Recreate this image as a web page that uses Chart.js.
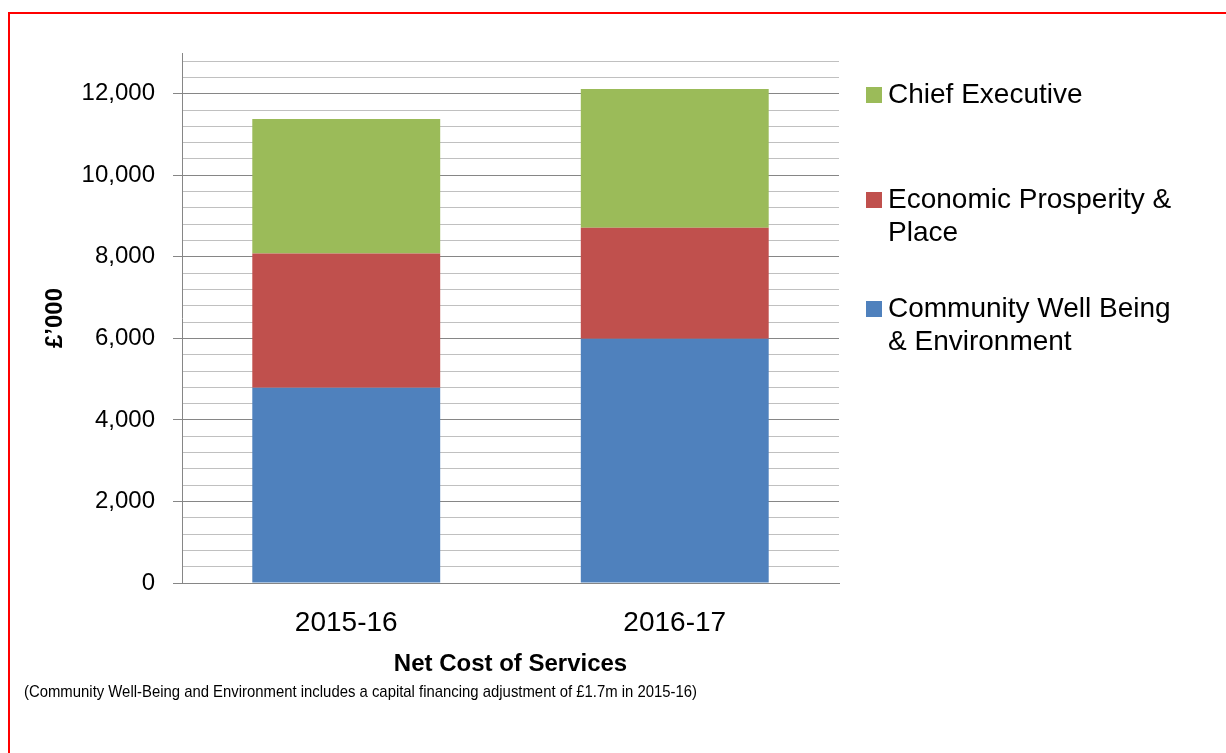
<!DOCTYPE html>
<html>
<head>
<meta charset="utf-8">
<script src="https://cdn.jsdelivr.net/npm/chart.js@4.4.0/dist/chart.umd.min.js"></script>
<style>
  html, body { margin: 0; padding: 0; background: #fff; overflow: hidden; }
  #wrap { position: relative; width: 1226px; height: 753px; }
  #frame { position: absolute; left: 8px; top: 12px; width: 1300px; height: 800px;
           border-left: 2px solid #ff0000; border-top: 2px solid #ff0000; pointer-events: none; }
</style>
</head>
<body>
<div id="wrap">
  <canvas id="costChart" width="1226" height="753"></canvas>
  <div id="frame"></div>
</div>
<script>
const years = ['2015-16', '2016-17'];
const communityWellBeing = [4790, 5990];
const economicProsperity = [3290, 2725];
const chiefExecutive = [3300, 3400];
const seriesNames = ['Community Well Being & Environment', 'Economic Prosperity & Place', 'Chief Executive'];
const legendLines = [['Community Well Being', '& Environment'], ['Economic Prosperity &', 'Place'], ['Chief Executive']];
const yTickLabels = ['0', '2,000', '4,000', '6,000', '8,000', '10,000', '12,000'];
const yMax = 13000;
const majorStep = 2000;
const minorStep = 400;
const footNote = '(Community Well-Being and Environment includes a capital financing adjustment of £1.7m in 2015-16)';

const colors = ['#4F81BD', '#C0504D', '#9BBB59'];
const fontFamily = '"Liberation Sans", Arial, sans-serif';

// legend on the right, top item first, labels wrap over two lines
const sideLegend = {
    id: 'sideLegend',
    afterDraw(chart) {
        const ctx = chart.ctx;
        const boxX = chart.chartArea.right + 27;
        const textX = boxX + 22;
        const firstLineY = [309, 200, 95];
        const lineH = 33;
        ctx.save();
        ctx.font = '28px ' + fontFamily;
        ctx.textBaseline = 'middle';
        chart.data.datasets.forEach((ds, i) => {
            const y = firstLineY[i];
            ctx.fillStyle = ds.backgroundColor;
            ctx.fillRect(boxX, y - 8, 16, 16);
            ctx.fillStyle = '#000';
            legendLines[i].forEach((line, j) => ctx.fillText(line, textX, y + j * lineH));
        });
        ctx.restore();
    }
};

// footnote under the axis title, slightly condensed like the original
const footNotePlugin = {
    id: 'footNote',
    afterDraw(chart) {
        const ctx = chart.ctx;
        ctx.save();
        ctx.font = '17px ' + fontFamily;
        ctx.fillStyle = '#000';
        ctx.textBaseline = 'middle';
        const w = ctx.measureText(footNote).width;
        ctx.translate(24, 692);
        ctx.scale(673 / w, 1);
        ctx.fillText(footNote, 0, 0);
        ctx.restore();
    }
};

const ctx = document.getElementById('costChart').getContext('2d');
const chart = new Chart(ctx, {
    type: 'bar',
    data: {
        labels: years,
        datasets: [
            { label: seriesNames[0], data: communityWellBeing, backgroundColor: colors[0] },
            { label: seriesNames[1], data: economicProsperity, backgroundColor: colors[1] },
            { label: seriesNames[2], data: chiefExecutive, backgroundColor: colors[2] }
        ]
    },
    options: {
        responsive: false,
        animation: false,
        layout: { padding: { top: 53, right: 387, left: 30, bottom: 71 } },
        datasets: { bar: { categoryPercentage: 1, barPercentage: 0.572 } },
        plugins: {
            legend: { display: false },
            tooltip: { enabled: false }
        },
        scales: {
            x: {
                stacked: true,
                grid: { display: false },
                border: { display: true, color: '#868686', width: 1 },
                ticks: { color: '#000', font: { family: fontFamily, size: 28 }, padding: 15 },
                title: {
                    display: true,
                    text: 'Net Cost of Services',
                    color: '#000',
                    font: { family: fontFamily, size: 24, weight: 'bold' },
                    padding: { top: 14, bottom: 3 }
                },
                afterFit(scale) { scale.height = 99; }
            },
            y: {
                stacked: true,
                min: 0,
                max: yMax,
                grid: {
                    color: c => c.tick && c.tick.value % majorStep === 0 ? '#868686' : '#c0c0c0',
                    tickColor: c => c.tick && c.tick.value % majorStep === 0 ? '#868686' : 'rgba(0,0,0,0)',
                    tickLength: 9,
                    lineWidth: 1
                },
                border: { display: true, color: '#868686', width: 1 },
                ticks: {
                    stepSize: minorStep,
                    includeBounds: false,
                    autoSkip: false,
                    padding: 18,
                    color: '#000',
                    font: { family: fontFamily, size: 24 },
                    callback: v => v % majorStep === 0 ? yTickLabels[v / majorStep] : ''
                },
                title: {
                    display: true,
                    text: '£’000',
                    color: '#000',
                    font: { family: fontFamily, size: 24, weight: 'bold' },
                    padding: { top: 11, bottom: 0 }
                },
                afterFit(scale) { scale.width = 152; }
            }
        }
    },
    plugins: [sideLegend, footNotePlugin]
});
</script>
</body>
</html>
